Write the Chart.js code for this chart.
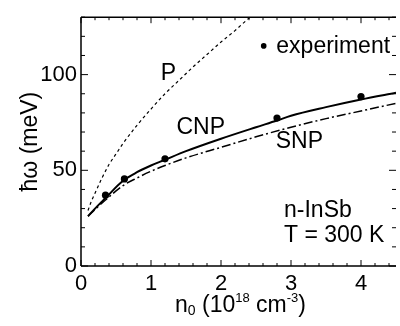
<!DOCTYPE html>
<html>
<head>
<meta charset="utf-8">
<script src="https://cdn.jsdelivr.net/npm/chart.js@4.4.1/dist/chart.umd.min.js"></script>
<style>
html,body{margin:0;padding:0;background:#fff;}
#wrap{width:400px;height:326px;}
</style>
</head>
<body>
<div id="wrap"><canvas id="c" width="400" height="326"></canvas></div>
<script>
// ---- data ----
const nExp = [0.35, 0.62, 1.2, 2.8, 4.0];
const wExp = [37, 45.5, 56, 77.3, 88.5];

const nCNP = [0.1, 0.2, 0.35, 0.6, 0.8, 1.0, 1.2, 1.5, 2.0, 2.5, 2.8, 3.0, 3.5, 4.0, 4.5];
const wCNP = [26, 30, 35.5, 44.5, 49, 52.5, 55.5, 60, 66.5, 72.5, 76, 78.5, 83, 87, 90.5];

const nSNP = [0.1, 0.2, 0.35, 0.6, 0.8, 1.0, 1.2, 1.5, 2.0, 2.5, 3.0, 3.5, 4.0, 4.5];
const wSNP = [26, 29.5, 34.5, 42, 46, 49.5, 52.5, 56.5, 62, 67.5, 72.5, 77, 81, 85];

const nP = [0.1, 0.15, 0.2, 0.3, 0.4, 0.5, 0.6, 0.8, 1.0, 1.2, 1.4, 1.6, 1.8, 2.0, 2.2, 2.4, 2.5];
const wP = [29, 34, 38, 46, 53, 58.5, 64, 73.5, 82, 90, 97, 104, 110.5, 117, 123, 129.5, 132];

const xTicks = [0, 1, 2, 3, 4];
const yTicks = [0, 50, 100];
const xMinorStep = 0.2;
const yMinorStep = 10;

const seriesLabels = { exp: 'experiment', cnp: 'CNP', snp: 'SNP', p: 'P' };
const annotations = [
  { text: 'P', x: 1.25, y: 100.5, align: 'center' },
  { text: 'CNP', x: 1.71, y: 72.5, align: 'center' },
  { text: 'SNP', x: 3.12, y: 65, align: 'center' },
  { text: 'n-InSb', x: 2.90, y: 29, align: 'left' },
  { text: 'T = 300 K', x: 2.90, y: 16, align: 'left' }
];

const FONT = '"Liberation Sans", Arial, Helvetica, sans-serif';
const pts = (xs, ys) => xs.map((x, i) => ({ x: x, y: ys[i] }));

const framePlugin = {
  id: 'frame',
  afterDraw(chart) {
    const ctx = chart.ctx, a = chart.chartArea;
    const xs = chart.scales.x, ys = chart.scales.y;
    ctx.save();
    ctx.strokeStyle = '#000';
    // frame
    ctx.lineWidth = 1.5;
    ctx.beginPath();
    ctx.moveTo(a.left, a.top); ctx.lineTo(a.right, a.top);
    ctx.moveTo(a.left, a.top); ctx.lineTo(a.left, a.bottom);
    ctx.moveTo(a.left, a.bottom); ctx.lineTo(a.right, a.bottom);
    ctx.stroke();
    // inner ticks
    ctx.lineWidth = 1;
    ctx.beginPath();
    const xmax = xs.max, ymax = ys.max;
    for (let k = 0; k * xMinorStep <= xmax + 1e-9; k++) {
      const v = k * xMinorStep;
      const major = Math.abs(v - Math.round(v)) < 1e-6;
      const L = major ? 6 : 3;
      const px = xs.getPixelForValue(v);
      ctx.moveTo(px, a.bottom); ctx.lineTo(px, a.bottom - L);
      ctx.moveTo(px, a.top); ctx.lineTo(px, a.top + L);
    }
    for (let k = 0; k * yMinorStep <= ymax + 1e-9; k++) {
      const v = k * yMinorStep;
      const major = v % 50 === 0;
      const L = major ? 7 : 4;
      const py = ys.getPixelForValue(v);
      ctx.moveTo(a.left, py); ctx.lineTo(a.left + L, py);
      ctx.moveTo(a.right, py); ctx.lineTo(a.right - L, py);
    }
    ctx.stroke();

    // curve labels and notes
    ctx.fillStyle = '#000';
    ctx.font = '23px ' + FONT;
    ctx.textBaseline = 'middle';
    annotations.forEach(an => {
      ctx.textAlign = an.align;
      ctx.fillText(an.text, xs.getPixelForValue(an.x), ys.getPixelForValue(an.y));
    });

    // legend (experiment)
    const lx = xs.getPixelForValue(2.61), ly = ys.getPixelForValue(115);
    ctx.beginPath();
    ctx.arc(lx, ly, 2.8, 0, Math.PI * 2);
    ctx.fill();
    ctx.textAlign = 'left';
    ctx.fillText(seriesLabels.exp, xs.getPixelForValue(2.79), ly + 1);

    // y axis title (rotated)
    ctx.save();
    ctx.translate(31, (a.top + a.bottom) / 2);
    ctx.rotate(-Math.PI / 2);
    ctx.textAlign = 'center';
    ctx.font = '23px ' + FONT;
    ctx.fillText('\u0127\u03C9 (meV)', 0, 0);
    ctx.restore();

    // x axis title with sub/superscripts
    const parts = [
      { t: 'n', f: 23, dy: 0 },
      { t: '0', f: 14, dy: 5 },
      { t: ' (10', f: 23, dy: 0 },
      { t: '18', f: 13, dy: -8 },
      { t: ' cm', f: 23, dy: 0 },
      { t: '-3', f: 13, dy: -8 },
      { t: ')', f: 23, dy: 0 }
    ];
    let total = 0;
    parts.forEach(p => { ctx.font = p.f + 'px ' + FONT; p.w = ctx.measureText(p.t).width; total += p.w; });
    let x0 = (a.left + a.right) / 2 + 2 - total / 2;
    const yb = 306;
    ctx.textAlign = 'left';
    ctx.textBaseline = 'middle';
    parts.forEach(p => {
      ctx.font = p.f + 'px ' + FONT;
      ctx.fillText(p.t, x0, yb + p.dy);
      x0 += p.w;
    });
    ctx.restore();
  }
};

new Chart(document.getElementById('c'), {
  type: 'line',
  data: {
    datasets: [
      {
        label: seriesLabels.p, data: pts(nP, wP),
        borderColor: '#000', borderWidth: 1.2, borderDash: [3, 3],
        pointRadius: 0, fill: false, cubicInterpolationMode: 'monotone'
      },
      {
        label: seriesLabels.snp, data: pts(nSNP, wSNP),
        borderColor: '#000', borderWidth: 1.5, borderDash: [9, 3, 2, 3],
        pointRadius: 0, fill: false, cubicInterpolationMode: 'monotone'
      },
      {
        label: seriesLabels.cnp, data: pts(nCNP, wCNP),
        borderColor: '#000', borderWidth: 2,
        pointRadius: 0, fill: false, cubicInterpolationMode: 'monotone'
      },
      {
        label: seriesLabels.exp, data: pts(nExp, wExp),
        showLine: false, pointRadius: 3.6, pointBackgroundColor: '#000',
        pointBorderColor: '#000', pointBorderWidth: 0
      }
    ]
  },
  options: {
    responsive: false,
    animation: false,
    events: [],
    layout: { padding: { top: 6, right: 0, left: 0, bottom: 0 } },
    plugins: { legend: { display: false }, tooltip: { enabled: false } },
    scales: {
      x: {
        type: 'linear', min: 0, max: 4.5,
        grid: { display: false, drawTicks: false },
        border: { display: false },
        afterFit(s) { s.height = 60; },
        afterBuildTicks(s) { s.ticks = xTicks.map(v => ({ value: v })); },
        ticks: { color: '#000', padding: 5, maxRotation: 0, font: { family: FONT, size: 22 } }
      },
      y: {
        type: 'linear', min: 0, max: 130,
        grid: { display: false, drawTicks: false },
        border: { display: false },
        afterFit(s) { s.width = 81; },
        afterBuildTicks(s) { s.ticks = yTicks.map(v => ({ value: v })); },
        ticks: { color: '#000', padding: 4, font: { family: FONT, size: 22 } }
      }
    }
  },
  plugins: [framePlugin]
});
</script>
</body>
</html>
